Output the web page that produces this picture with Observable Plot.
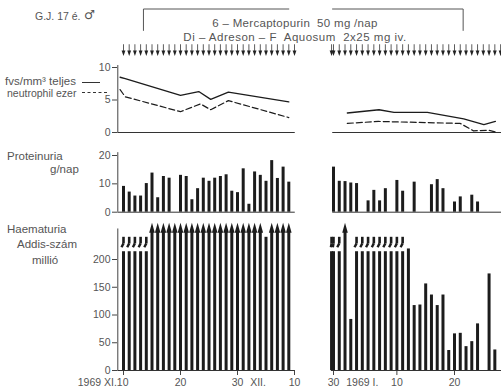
<!DOCTYPE html>
<html><head><meta charset="utf-8">
<script src="https://cdn.jsdelivr.net/npm/d3@7"></script>
<script src="https://cdn.jsdelivr.net/npm/@observablehq/plot@0.6"></script>
<style>
html,body{margin:0;padding:0;background:#fff;}
#chart{position:relative;width:501px;height:392px;overflow:hidden;font-family:"Liberation Sans",Arial,sans-serif;color:#555;}
#chart svg{position:absolute;left:0;overflow:visible;}
.lbl{position:absolute;white-space:pre;font-size:11.5px;line-height:1;color:#555;}
.c{transform:translateX(-50%);}
.key{position:absolute;height:0;}
</style></head>
<body><div id="chart"></div>
<script>
// ---------- data (day 0 = 1969 XI.10, day 50 = XII.30) ----------
// white blood cells (thousand / mm3)
const wbcLeftDays   = [-0.6, 0.3, 10, 13.2, 15.3, 18.4, 29];
const wbcLeftTotal  = [8.5, 8.3, 5.7, 6.3, 5.1, 6.2, 4.7];
const neutLeftDays  = [-0.6, 0.3, 10, 13.5, 15.3, 18.4, 29];
const neutLeft      = [6.6, 5.5, 3.2, 4.4, 3.5, 4.9, 2.3];
const wbcRightDays  = [52.4, 57.9, 60.5, 66.3, 72.6, 76.1, 78.1];
const wbcRightTotal = [3.0, 3.5, 3.1, 3.1, 2.1, 1.2, 1.7];
const neutRightDays = [52.4, 57.8, 72.0, 74.3, 76.9, 78.4];
const neutRight     = [1.4, 1.7, 1.4, 0.25, 0.35, 0];

// proteinuria g/nap
const protDays   = [0,1,2,3,4,5,6,7,8,10,11,12,13,14,15,16,17,18,19,20,21,22,23,24,25,26,27,28,29,
                    50,51,52,53,54,56,57,58,59,61,62,64,67,68,69,71,72,74,75];
const protValues = [9.1,7.1,5.7,5.7,10.1,13.8,5.1,12.6,12.0,13.0,12.6,4.4,8.3,12.0,10.9,12.0,12.6,13.2,7.4,6.9,15.3,2.8,14.2,13.0,10.9,18.2,11.9,15.9,10.6,
                    15.9,10.9,10.8,10.3,10.1,4.0,7.7,4.0,8.3,11.2,7.4,10.6,9.7,11.5,8.3,3.6,5.4,6.0,3.6];

// haematuria (Addis count, million); "break" = off scale (broken bar), "arrow" = far off scale
const hemDays   = [0,1,2,3,4,5,6,7,8,9,10,11,12,13,14,15,16,17,18,19,20,21,22,23,24,25,26,27,28,29,
                   49,50,51,52,53,54,55,56,57,58,59,60,61,62,63,64,65,66,67,68,69,70,71,72,73,74,75,77,78];
const hemValues = ["break","break","break","break","break",
                   "arrow","arrow","arrow","arrow","arrow","arrow","arrow","arrow","arrow","arrow",
                   "arrow","arrow","arrow","arrow","arrow","arrow","arrow","arrow","arrow","arrow",
                   240,"arrow","arrow","arrow","arrow",
                   "break","break","break","arrow",92,
                   "break","break","break","break","break","break","break","break","break",
                   219,117,118,156,136,117,136,36,66,67,43,52,84,174,37];

// Di-Adreson-F injections (daily)
const injectionDays = [0,1,2,3,4,5,6,7,8,9,10,11,12,13,14,15,16,17,18,19,20,21,22,23,24,25,26,27,28,29,30,
                       49,50,51,52,53,54,55,56,57,58,59,60,61,62,63,64,65,66,67,68,69,70,71,72,73,74,75,76,77,78,79];
// 6-Mercaptopurin period
const mpStart = 3.5, mpEnd = 72.5;

// x axis
const xTickDays   = [0, 10, 20, 30, 50, 61, 71];
const xTickLabels = ["", "20", "30", "10", "30", "10", "20"];
const xExtraLabels = [
  {day: 0, label: "1969 XI.10", anchor: "end", dx: 5},
  {day: 23.6, label: "XII.", anchor: "middle", dx: 0},
  {day: 55, label: "1969 I.", anchor: "middle", dx: 0}
];

// ---------- helpers ----------
const pairs = (xs, ys) => xs.map((x, i) => ({day: x, v: ys[i]}));
const xScale = {type: "linear", domain: [0, 30, 50, 71], range: [123, 294, 333, 454], axis: null};
const segments = [{x1: -1, x2: 30.4}, {x1: 49.6, x2: 79.5}];
const ink = "#1c1c1c";
const downTri = {draw(ctx) { ctx.moveTo(-1.9, 0); ctx.lineTo(1.9, 0); ctx.lineTo(0, 5.5); ctx.closePath(); }};
const upTri = {draw(ctx) { ctx.moveTo(-2.8, 0); ctx.lineTo(2.8, 0); ctx.lineTo(0, -10); ctx.closePath(); }};
const common = {width: 501, marginLeft: 117, marginRight: 0, marginTop: 0,
  style: {fontFamily: "'Liberation Sans', Arial, sans-serif", fontSize: "10.5px", color: "#555", background: "transparent"}};
const yAxis = ticks => Plot.axisY({ticks, tickSize: 5, tickPadding: 2, stroke: "#444", label: null});

const root = document.getElementById("chart");
function place(svg, top) { svg.style.top = top + "px"; root.appendChild(svg); }

// ---------- panel A: white cells ----------
const plotA = Plot.plot({
  ...common, height: 140, marginBottom: 0,
  x: xScale,
  y: {domain: [0, 10], range: [132, 67], axis: null},
  marks: [
    yAxis([0, 5, 10]),
    Plot.ruleX([-1], {y1: 0, y2: 10.3, stroke: "#444"}),
    Plot.ruleY(segments, {y: 0, x1: "x1", x2: "x2", stroke: "#333"}),
    Plot.line(pairs(wbcLeftDays, wbcLeftTotal), {x: "day", y: "v", stroke: ink, strokeWidth: 1.3}),
    Plot.line(pairs(wbcRightDays, wbcRightTotal), {x: "day", y: "v", stroke: ink, strokeWidth: 1.3}),
    Plot.line(pairs(neutLeftDays, neutLeft), {x: "day", y: "v", stroke: ink, strokeWidth: 1.2, strokeDasharray: "6,3"}),
    Plot.line(pairs(neutRightDays, neutRight), {x: "day", y: "v", stroke: ink, strokeWidth: 1.2, strokeDasharray: "6,3"}),
    // injection arrows
    Plot.ruleX(injectionDays, {x: d => d, y1: 12.4, y2: 13.5, stroke: "#333", strokeWidth: 0.8}),
    Plot.dot(injectionDays, {x: d => d, y: 12.6, symbol: downTri, r: 1, fill: "#222", stroke: "none"}),
    // 6-MP bracket
    Plot.line([{day: mpStart, v: 15.7}, {day: mpStart, v: 19}, {day: 29, v: 19}], {x: "day", y: "v", stroke: "#555", strokeWidth: 1}),
    Plot.line([{day: 49.5, v: 19}, {day: mpEnd, v: 19}, {day: mpEnd, v: 15.7}], {x: "day", y: "v", stroke: "#555", strokeWidth: 1})
  ]
});
place(plotA, 0);

// ---------- panel B: proteinuria ----------
const plotB = Plot.plot({
  ...common, height: 80, marginBottom: 0,
  x: xScale,
  y: {domain: [0, 20], range: [71.7, 15], axis: null},
  marks: [
    yAxis([0, 10, 20]),
    Plot.ruleX([-1], {y1: 0, y2: 21, stroke: "#444"}),
    Plot.ruleY(segments, {y: 0, x1: "x1", x2: "x2", stroke: "#333"}),
    Plot.ruleX(pairs(protDays, protValues), {x: "day", y1: 0, y2: "v", stroke: ink, strokeWidth: 3})
  ]
});
place(plotB, 140);

// ---------- panel C: haematuria ----------
const hem = pairs(hemDays, hemValues);
const hemNum = hem.filter(d => typeof d.v === "number");
const hemBreak = hem.filter(d => d.v === "break");
const hemArrow = hem.filter(d => d.v === "arrow");
const extraText = xExtraLabels.map(l => Plot.text([l], {
  x: "day", text: "label", textAnchor: l.anchor, dx: l.dx,
  frameAnchor: "bottom", lineAnchor: "top", dy: 8, fill: "#555"
}));
const plotC = Plot.plot({
  ...common, height: 172, marginBottom: 22,
  x: xScale,
  y: {domain: [0, 200], range: [150, 39], axis: null},
  marks: [
    yAxis([0, 50, 100, 150, 200]),
    Plot.axisX({ticks: xTickDays, tickFormat: d => xTickLabels[xTickDays.indexOf(d)], tickSize: 5, tickPadding: 3, stroke: "#444", label: null}),
    ...extraText,
    Plot.ruleX([-1], {y1: 0, y2: 255, stroke: "#444"}),
    Plot.ruleY([{x1: -1, x2: 30.2}, {x1: 48.9, x2: 79.5}], {y: 0, x1: "x1", x2: "x2", stroke: "#333"}),
    Plot.ruleX(hemNum, {x: "day", y1: 0, y2: "v", stroke: ink, strokeWidth: 3}),
    Plot.ruleX(hemBreak, {x: "day", y1: 0, y2: 214, stroke: ink, strokeWidth: 3}),
    Plot.ruleX(hemBreak, {x: "day", y1: 228, y2: 240, stroke: ink, strokeWidth: 2.6}),
    Plot.link(hemBreak, {x1: "day", y1: 229, x2: d => d.day - 0.35, y2: 222, stroke: ink, strokeWidth: 2.4}),
    Plot.ruleX(hemArrow, {x: "day", y1: 0, y2: 250, stroke: ink, strokeWidth: 3}),
    Plot.dot(hemArrow, {x: "day", y: 248, symbol: upTri, r: 1, fill: ink, stroke: "none"})
  ]
});
place(plotC, 220);

// ---------- text labels ----------
const labels = [
  {t: "G.J. 17 é.", x: 35, y: 11, size: 10.5},
  {t: "♂", x: 84, y: 9, size: 12.5, font: "'DejaVu Sans', sans-serif"},
  {t: "6 – Mercaptopurin  50 mg /nap", x: 295, y: 18, c: true, ls: 0.3},
  {t: "Di – Adreson – F  Aquosum  2x25 mg iv.", x: 295, y: 32, c: true, ls: 0.5},
  {t: "fvs/mm³ teljes", x: 5, y: 76},
  {t: "neutrophil ezer", x: 7, y: 88, size: 10.5},
  {t: "Proteinuria", x: 7, y: 151},
  {t: "g/nap", x: 50, y: 164},
  {t: "Haematuria", x: 7, y: 224},
  {t: "Addis-szám", x: 17, y: 239},
  {t: "millió", x: 32, y: 255}
];
for (const l of labels) {
  const d = document.createElement("div");
  d.className = "lbl" + (l.c ? " c" : "");
  d.textContent = l.t;
  d.style.left = l.x + "px"; d.style.top = l.y + "px";
  if (l.size) d.style.fontSize = l.size + "px";
  if (l.ls) d.style.letterSpacing = l.ls + "px";
  if (l.font) d.style.fontFamily = l.font;
  root.appendChild(d);
}
const keys = [
  {x: 82, y: 82, w: 18, style: "1.3px solid #333"},
  {x: 82, y: 92, w: 25, style: "1.2px dashed #333"}
];
for (const k of keys) {
  const d = document.createElement("div");
  d.className = "key";
  d.style.left = k.x + "px"; d.style.top = k.y + "px"; d.style.width = k.w + "px";
  d.style.borderTop = k.style;
  root.appendChild(d);
}
</script></body></html>
